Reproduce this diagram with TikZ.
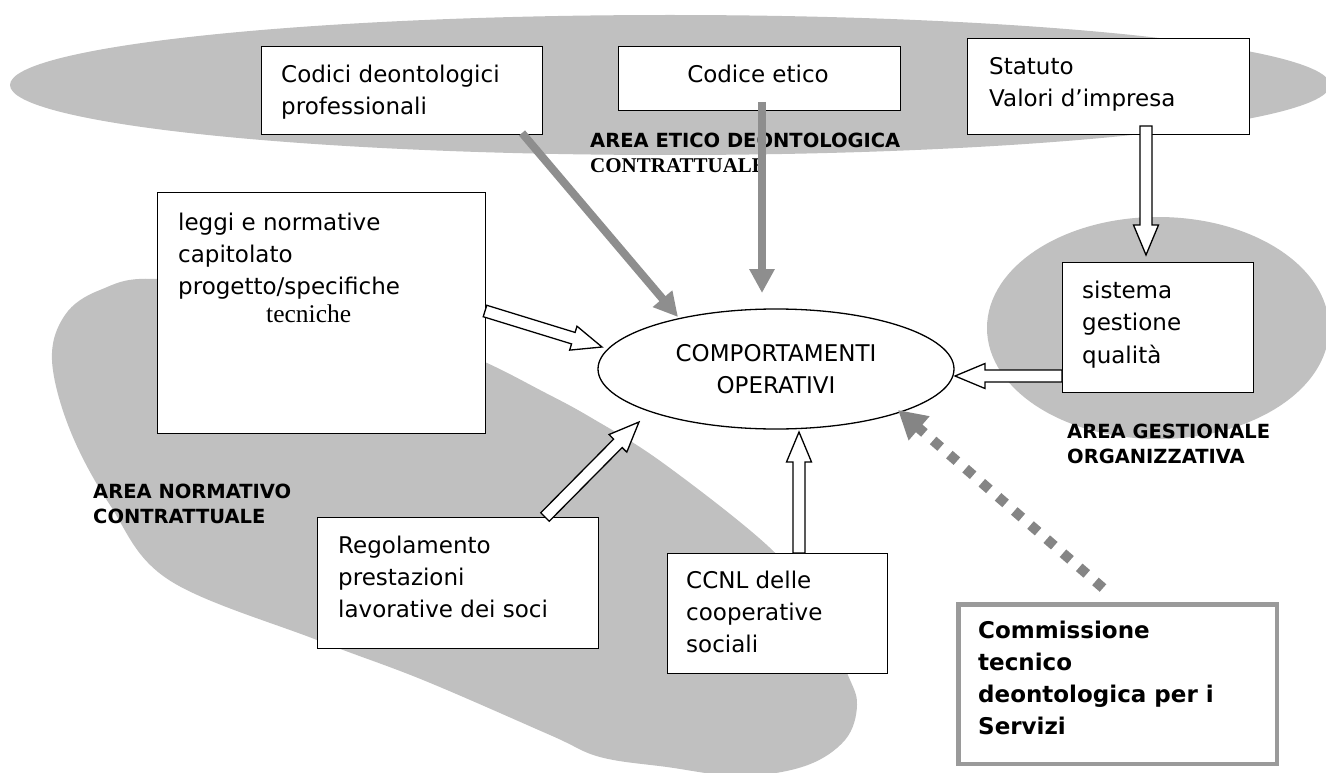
\documentclass[tikz,border=0pt]{standalone}
\usepackage{fontspec}
\setmainfont{DejaVu Sans}
\newfontfamily\serifft{Liberation Serif}
\usetikzlibrary{shapes.geometric,arrows.meta,calc}
\definecolor{areagray}{HTML}{C0C0C0}
\definecolor{arrowgray}{HTML}{8E8E8E}
\definecolor{dotgray}{HTML}{858585}
\definecolor{boxgray}{HTML}{9A9A9A}
\newcommand{\boxtxt}[1]{\parbox[t]{400pt}{\raggedright #1}}
\newcommand{\hollowarr}[2]{%
  \path coordinate (hA) at (#1) coordinate (hB) at (#2);
  \path coordinate (hC) at ($(hB)!30pt!(hA)$);
  \draw[hollowline] ($(hA)!6pt!90:(hB)$) -- ($(hC)!6pt!90:(hB)$) -- ($(hC)!12.5pt!90:(hB)$) -- (hB)
    -- ($(hC)!12.5pt!-90:(hB)$) -- ($(hC)!6pt!-90:(hB)$) -- ($(hA)!6pt!-90:(hB)$) -- cycle;}
\begin{document}
\begin{tikzpicture}[x=1pt,y=-1pt,
  txt/.style={inner sep=0pt, font=\fontsize{23}{32}\selectfont},
  boldtxt/.style={inner sep=0pt, font=\fontsize{23}{32.3}\selectfont\bfseries},
  area/.style={inner sep=0pt, font=\fontsize{19.5}{25.5}\selectfont\bfseries},
  whitebox/.style={draw=black, fill=white, line width=1.4pt, inner sep=0pt, anchor=north west},
  hollowline/.style={draw=black, fill=white, line width=1.3pt, line join=miter},
  grayarrow/.style={draw=arrowgray, line width=8pt, -{Triangle[length=24pt,width=24pt]}},
  dotarrow/.style={draw=dotgray, line width=10pt, dash pattern=on 10pt off 11.5pt, -{Triangle[length=28pt,width=30pt]}}]
\useasboundingbox (0,0) rectangle (1326,773);
\fill[white] (0,0) rectangle (1326,773);
% gray areas
\fill[areagray] (670,85) ellipse [x radius=660, y radius=70];
\fill[areagray] (1158,328) ellipse [x radius=171, y radius=111];
\fill[areagray] plot[smooth cycle, tension=0.6] coordinates {
  (100,290) (157,279) (300,300) (420,335) (487,363) (540,390) (590,417) (663,463)
  (769,547) (815,605) (847,673) (857,705) (845,740) (805,766) (740,776) (667,767)
  (600,757) (550,735) (423,680) (317,640) (169,580) (110,505) (70,430) (52,360) (65,315)};
% boxes
\node[whitebox, minimum width=281pt, minimum height=88pt] (codici) at (261,46) {};
\node[whitebox, minimum width=282pt, minimum height=64pt] (etico) at (618,46) {};
\node[whitebox, minimum width=282pt, minimum height=96pt] (statuto) at (967,38) {};
\node[whitebox, minimum width=328pt, minimum height=241pt] (leggi) at (157,192) {};
\node[whitebox, minimum width=191pt, minimum height=130pt] (sistema) at (1062,262) {};
\node[whitebox, minimum width=281pt, minimum height=131pt] (reg) at (317,517) {};
\node[whitebox, minimum width=220pt, minimum height=120pt] (ccnl) at (667,553) {};
\node[whitebox, draw=boxgray, line width=4.5pt, minimum width=318.5pt, minimum height=159.5pt] (comm) at (956.25,602.25) {};
% central ellipse
\node[ellipse, draw=black, fill=white, line width=1.3pt, inner sep=0pt, minimum width=356pt, minimum height=120pt,
  align=center, font=\fontsize{23}{32}\selectfont] (ell) at (776,369) {COMPORTAMENTI\\OPERATIVI};
% box texts
\node[txt, anchor=base west] (tcodici) at (281,83) {\boxtxt{Codici deontologici\\professionali}};
\node[txt, anchor=base] (tetico) at (758,83) {Codice etico};
\node[txt, anchor=base west] (tstatuto) at (989,75) {\boxtxt{Statuto\\Valori d’impresa}};
\node[txt, anchor=base west] (tleggi) at (178,230) {\boxtxt{leggi e normative\\capitolato\\progetto/specifiche}};
\node[inner sep=0pt, anchor=base west, font=\serifft\fontsize{25.5}{30}\selectfont] (ttec) at (266,322) {tecniche};
\node[txt, anchor=base west, font=\fontsize{23}{32.5}\selectfont] (tsistema) at (1082,298) {\boxtxt{sistema\\gestione\\qualità}};
\node[txt, anchor=base west] (treg) at (338,553) {\boxtxt{Regolamento\\prestazioni\\lavorative dei soci}};
\node[txt, anchor=base west] (tccnl) at (686,588) {\boxtxt{CCNL delle\\cooperative\\sociali}};
\node[boldtxt, anchor=base west] (tcomm) at (978,638) {\boxtxt{Commissione\\tecnico\\deontologica per i\\Servizi}};
% area labels
\node[area, anchor=base west] (lab1) at (590,148) {AREA ETICO DEONTOLOGICA};
\node[inner sep=0pt, anchor=base west, font=\serifft\bfseries\fontsize{21}{24}\selectfont] (lab1b) at (590,172) {CONTRATTUALE};
\node[area, anchor=base west] (lab2) at (93,498) {\boxtxt{AREA NORMATIVO\\CONTRATTUALE}};
\node[area, anchor=base west] (lab3) at (1067,438) {\boxtxt{AREA GESTIONALE\\ORGANIZZATIVA}};
% connector end points
\coordinate (s1) at (485,311);   \coordinate (e1) at (602,347);
\coordinate (s2) at (545,517);   \coordinate (e2) at (639,422);
\coordinate (s3) at (799,553);   \coordinate (e3) at (799,432);
\coordinate (s4) at (1062,376);  \coordinate (e4) at (955,376);
\coordinate (s5) at (1146,126);  \coordinate (e5) at (1146,255);
\coordinate (s6) at (522,133);   \coordinate (e6) at (678,317);
\coordinate (s7) at (762,102);   \coordinate (e7) at (762,293);
\coordinate (s8) at (1103,588);  \coordinate (e8) at (898,410);
% hollow arrows
\hollowarr{s1}{e1}
\hollowarr{s2}{e2}
\hollowarr{s3}{e3}
\hollowarr{s4}{e4}
\hollowarr{s5}{e5}
% gray arrows
\draw[grayarrow] (s6) -- (e6);
\draw[grayarrow] (s7) -- (e7);
\draw[dotarrow] (s8) -- (e8);
\end{tikzpicture}
\end{document}
